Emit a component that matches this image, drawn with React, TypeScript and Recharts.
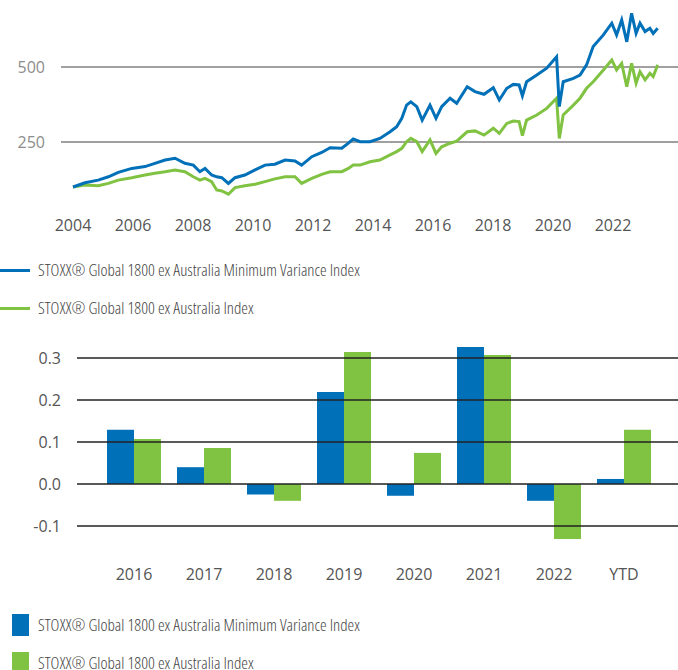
import React from 'react';
import {
  LineChart,
  Line,
  BarChart,
  Bar,
  XAxis,
  YAxis,
  ReferenceLine,
} from 'recharts';

// ---------------------------------------------------------------------------
// Data
// ---------------------------------------------------------------------------
const MINVAR_NAME = 'STOXX® Global 1800 ex Australia Minimum Variance Index';
const BENCH_NAME = 'STOXX® Global 1800 ex Australia Index';

// index levels (rebased to 100)
const lineYears = [
  2004.0, 2004.4, 2004.84, 2005.18, 2005.51, 2005.96, 2006.4, 2006.73, 2007.07, 2007.4,
  2007.73, 2008.01, 2008.23, 2008.4, 2008.62, 2008.79, 2008.96, 2009.18, 2009.4, 2009.73,
  2010.07, 2010.4, 2010.73, 2011.07, 2011.4, 2011.62, 2011.96, 2012.29, 2012.57, 2012.96,
  2013.18, 2013.34, 2013.57, 2013.9, 2014.23, 2014.57, 2014.79, 2014.96, 2015.12, 2015.26,
  2015.46, 2015.64, 2015.9, 2016.1, 2016.29, 2016.57, 2016.79, 2017.14, 2017.4, 2017.7,
  2018.01, 2018.21, 2018.46, 2018.68, 2018.87, 2018.98, 2019.12, 2019.46, 2019.79, 2020.12,
  2020.21, 2020.34, 2020.68, 2020.9, 2021.12, 2021.34, 2021.68, 2021.96, 2022.12, 2022.29,
  2022.46, 2022.62, 2022.77, 2022.9, 2023.07, 2023.23, 2023.34, 2023.49,
];
const minVarLevels = [
  100, 114, 123, 134, 149, 162, 168, 179, 190, 196,
  179, 173, 151, 162, 140, 134, 131, 112, 131, 140,
  157, 173, 176, 190, 187, 173, 201, 215, 231, 229,
  246, 260, 251, 251, 262, 284, 301, 329, 373, 384,
  368, 323, 373, 329, 368, 396, 379, 434, 418, 409,
  431, 390, 429, 442, 440, 404, 451, 473, 496, 534,
  368, 451, 462, 473, 507, 568, 607, 646, 607, 657,
  584, 679, 612, 646, 618, 629, 612, 629,
];
const benchLevels = [
  100, 107, 104, 112, 123, 131, 140, 146, 151, 157,
  151, 134, 123, 129, 118, 90, 87, 76, 98, 104,
  109, 118, 127, 134, 134, 112, 129, 142, 151, 151,
  162, 173, 173, 184, 190, 207, 218, 229, 251, 262,
  251, 218, 257, 212, 234, 246, 253, 284, 287, 273,
  296, 279, 312, 320, 318, 271, 323, 340, 362, 396,
  262, 340, 373, 396, 429, 451, 490, 523, 490, 512,
  434, 512, 446, 484, 457, 479, 468, 507,
];
const lineYearTicks = [2004, 2006, 2008, 2010, 2012, 2014, 2016, 2018, 2020, 2022];
const levelTicks = [250, 500];

// calendar year returns
const returnYears = ['2016', '2017', '2018', '2019', '2020', '2021', '2022', 'YTD'];
const minVarReturns = [0.129, 0.04, -0.025, 0.219, -0.028, 0.326, -0.04, 0.012];
const benchReturns = [0.107, 0.086, -0.04, 0.314, 0.074, 0.307, -0.131, 0.129];
const returnTicks = [-0.1, 0, 0.1, 0.2, 0.3];

const BLUE = '#0070b8';
const GREEN = '#80c242';
const FONT = '"Open Sans", sans-serif';

const lineData = lineYears.map((t, i) => ({
  t,
  minVar: minVarLevels[i],
  bench: benchLevels[i],
}));

const barData = returnYears.map((year, i) => ({
  year,
  minVar: minVarReturns[i],
  bench: benchReturns[i],
}));

// ---------------------------------------------------------------------------
// Legend rows
// ---------------------------------------------------------------------------
const legendText: React.CSSProperties = {
  position: 'absolute',
  left: 38,
  fontFamily: FONT,
  fontStretch: 'condensed',
  fontWeight: 300,
  fontSize: 16.8,
  lineHeight: '20px',
  color: '#444',
  whiteSpace: 'nowrap',
};

function LineKey({ y, color, label }: { y: number; color: string; label: string }) {
  return (
    <>
      <div style={{ position: 'absolute', left: 0, top: y - 1.5, width: 30, height: 3, background: color }} />
      <div style={{ ...legendText, top: y - 10.5 }}>{label}</div>
    </>
  );
}

function BoxKey({ y, color, label }: { y: number; color: string; label: string }) {
  return (
    <>
      <div style={{ position: 'absolute', left: 12, top: y - 11, width: 17, height: 22, background: color }} />
      <div style={{ ...legendText, top: y - 10.5 }}>{label}</div>
    </>
  );
}

const tickStyle = { fill: '#555', fontSize: 16, fontFamily: FONT };

export default function App(): React.JSX.Element {
  return (
    <div style={{ position: 'absolute', left: 0, top: 0, width: 678, height: 670, background: '#fff', overflow: 'hidden' }}>
      {/* ── Index levels ── */}
      <div style={{ position: 'absolute', left: 0, top: 0 }}>
        <LineChart width={678} height={240} data={lineData} margin={{ top: 7, right: 0, bottom: 0, left: 0 }}>
          <XAxis
            dataKey="t"
            type="number"
            domain={[2003.6, 2024.167]}
            ticks={lineYearTicks}
            height={23}
            axisLine={false}
            tickLine={false}
            tickSize={0}
            tickMargin={3}
            tick={tickStyle}
          />
          <YAxis
            type="number"
            domain={[0, 700]}
            ticks={levelTicks}
            width={61}
            axisLine={false}
            tickLine={false}
            tickSize={0}
            tickMargin={16}
            tick={{ ...tickStyle, fill: '#8c8c8c' }}
          />
          {levelTicks.map((v) => (
            <ReferenceLine key={`lg-${v}`} y={v} stroke="#808080" strokeWidth={1.5} />
          ))}
          <Line dataKey="bench" stroke={GREEN} strokeWidth={3} dot={false} isAnimationActive={false} />
          <Line dataKey="minVar" stroke={BLUE} strokeWidth={3} dot={false} isAnimationActive={false} />
        </LineChart>
      </div>

      <LineKey y={270} color={BLUE} label={MINVAR_NAME} />
      <LineKey y={308} color={GREEN} label={BENCH_NAME} />

      {/* ── Calendar year returns ── */}
      <div style={{ position: 'absolute', left: 0, top: 330 }}>
        <BarChart
          width={678}
          height={260}
          data={barData}
          margin={{ top: 7, right: 0, bottom: 0, left: 0 }}
          barSize={27}
          barGap={0}
        >
          <XAxis
            dataKey="year"
            height={43}
            padding={{ left: 22, right: 19 }}
            axisLine={false}
            tickLine={false}
            tickSize={0}
            tickMargin={22}
            tick={tickStyle}
          />
          <YAxis
            type="number"
            domain={[-0.15, 0.35]}
            ticks={returnTicks}
            width={77}
            axisLine={false}
            tickLine={false}
            tickSize={0}
            tickMargin={16}
            tickFormatter={(v: number) => v.toFixed(1)}
            tick={tickStyle}
          />
          {returnTicks.map((v) => (
            <ReferenceLine key={`bg-${v}`} y={v} stroke="#222" strokeWidth={1.5} />
          ))}
          <Bar dataKey="minVar" fill={BLUE} isAnimationActive={false} />
          <Bar dataKey="bench" fill={GREEN} isAnimationActive={false} />
        </BarChart>
      </div>

      <BoxKey y={625} color={BLUE} label={MINVAR_NAME} />
      <BoxKey y={663} color={GREEN} label={BENCH_NAME} />
    </div>
  );
}
